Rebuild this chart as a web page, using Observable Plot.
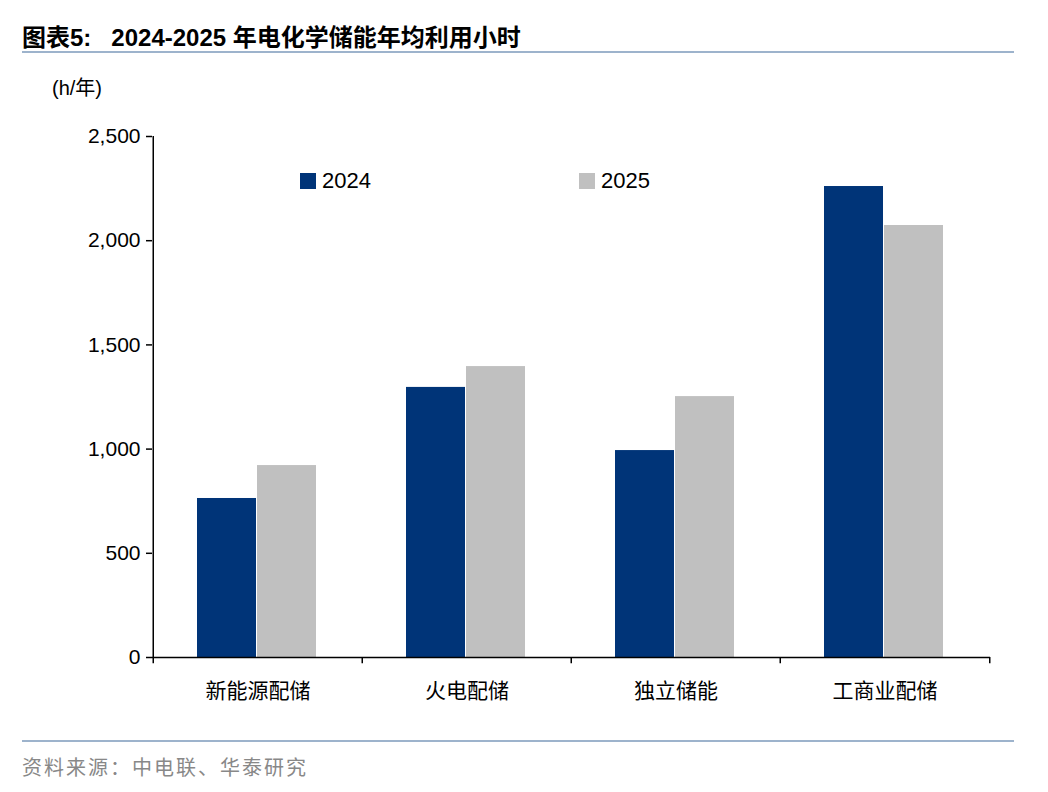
<!DOCTYPE html>
<html><head><meta charset="utf-8">
<script src="https://cdn.jsdelivr.net/npm/d3@7"></script>
<script src="https://cdn.jsdelivr.net/npm/@observablehq/plot@0.6"></script>
<style>
body{margin:0;background:#fff;font-family:"Liberation Sans",Arial,sans-serif;}
#wrap{position:relative;width:1048px;height:792px;}
#title{position:absolute;left:22px;top:18px;font-size:24px;font-weight:bold;font-family:"Liberation Sans","Noto Sans CJK SC",sans-serif;}
.line{position:absolute;left:22px;width:992px;height:2px;background:#9db3cc;}
#unit{position:absolute;left:52px;top:72px;font-size:20px;font-family:"Liberation Sans","Noto Sans CJK SC";}
#src{position:absolute;left:22px;top:752px;font-size:20px;color:#888;font-family:"Noto Sans CJK SC";letter-spacing:2px;}
.lg{position:absolute;top:168px;font-size:22px;display:flex;align-items:center;}
.lg span{display:inline-block;width:16px;height:16px;margin-right:6px;}
#chart{position:absolute;left:0;top:62px;}
</style></head><body>
<div id="wrap">
<div id="title">图表5:&nbsp;&nbsp; 2024-2025 年电化学储能年均利用小时</div>
<div class="line" style="top:51px"></div>
<div id="unit">(h/年)</div>
<div id="chart"></div>
<div class="lg" style="left:300px"><span style="background:#003478"></span>2024</div>
<div class="lg" style="left:579px"><span style="background:#c0c0c0"></span>2025</div>
<div class="line" style="top:740px"></div>
<div id="src">资料来源：中电联、华泰研究</div>
</div>
<script>
const categories = ["新能源配储","火电配储","独立储能","工商业配储"];
const values2024 = [763, 1296, 993, 2260];
const values2025 = [921, 1396, 1252, 2073];
const yTicks = [0, 500, 1000, 1500, 2000, 2500];

const d24 = categories.map((c,i)=>({cat:c, v:values2024[i]}));
const d25 = categories.map((c,i)=>({cat:c, v:values2025[i]}));

const chart = Plot.plot({
  width: 1048, height: 660,
  marginLeft: 152, marginRight: 58, marginTop: 74, marginBottom: 65,
  style: {fontFamily: "Liberation Sans, Arial, sans-serif"},
  x: {domain: categories, padding: 0, label: null},
  y: {domain: [0, 2500], label: null},
  marks: [
    Plot.barY(d24, {x:"cat", y:"v", fill:"#003478", insetLeft:44, insetRight:106}),
    Plot.barY(d25, {x:"cat", y:"v", fill:"#c0c0c0", insetLeft:104, insetRight:46}),
    Plot.ruleY([0], {stroke:"#000", strokeWidth:1.5}),
    Plot.ruleX(categories, {x:d=>d, dx:-104.75, y1:0, y2:-30, stroke:"#000", strokeWidth:1.5}),
    Plot.ruleX([categories[3]], {x:d=>d, dx:104.75, y1:0, y2:-30, stroke:"#000", strokeWidth:1.5}),
    Plot.axisY({ticks: yTicks, tickFormat: d3.format(","), tickSize: 6, fontSize: 21, tickPadding: 6, strokeWidth:1.5}),
    Plot.ruleX([0], {x:()=>categories[0], dx:-104.75, y1:0, y2:2500, stroke:"#000", strokeWidth:1.5}),
    Plot.axisX({tickSize: 0, fontSize: 21, tickPadding: 26, fontFamily: "Noto Sans CJK SC"})
  ]
});
document.getElementById("chart").append(chart);
</script>
</body></html>
